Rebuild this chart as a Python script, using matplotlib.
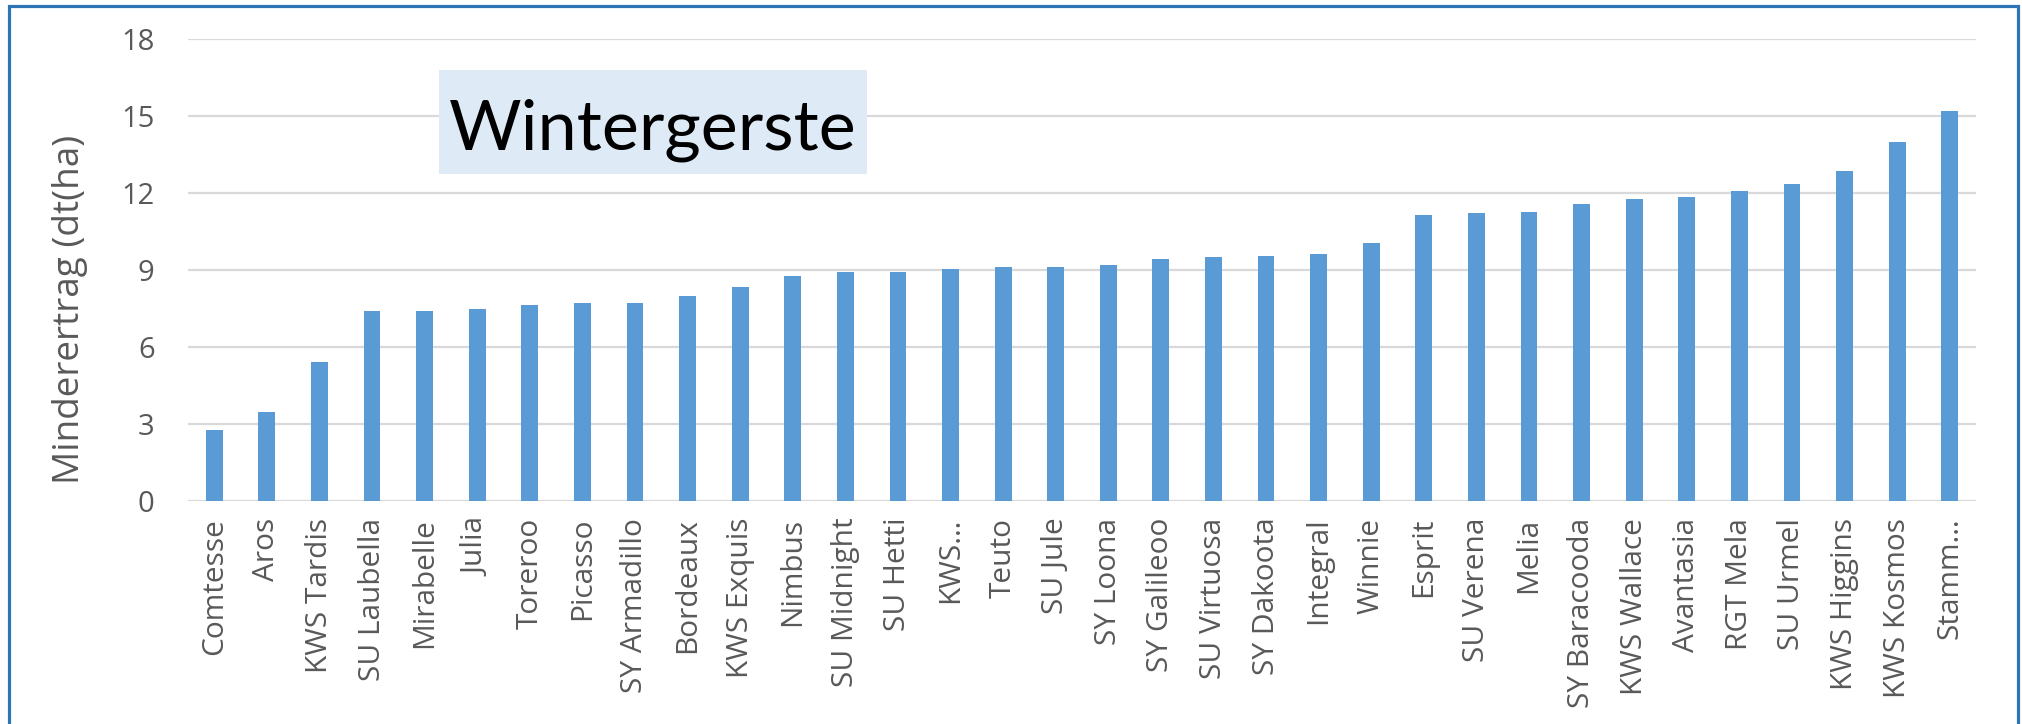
import matplotlib
matplotlib.use("Agg")
import matplotlib.pyplot as plt
from matplotlib.patches import Rectangle

categories = ["Comtesse", "Aros", "KWS Tardis", "SU Laubella", "Mirabelle", "Julia",
              "Toreroo", "Picasso", "SY Armadillo", "Bordeaux", "KWS Exquis", "Nimbus",
              "SU Midnight", "SU Hetti", "KWS…", "Teuto", "SU Jule", "SY Loona",
              "SY Galileoo", "SU Virtuosa", "SY Dakoota", "Integral", "Winnie", "Esprit",
              "SU Verena", "Melia", "SY Baracooda", "KWS Wallace", "Avantasia", "RGT Mela",
              "SU Urmel", "KWS Higgins", "KWS Kosmos", "Stamm…"]
values = [2.77, 3.47, 5.40, 7.40, 7.40, 7.48, 7.63, 7.70, 7.70, 7.98, 8.33, 8.77,
          8.92, 8.92, 9.04, 9.12, 9.12, 9.19, 9.40, 9.48, 9.54, 9.62, 10.05, 11.13,
          11.19, 11.26, 11.56, 11.77, 11.84, 12.05, 12.34, 12.84, 13.99, 15.19]
yticks = [0, 3, 6, 9, 12, 15, 18]
title = "Wintergerste"
ylabel = "Minderertrag (dt(ha)"

W, H = 2022, 724
fig = plt.figure(figsize=(W / 100, H / 100), dpi=100)
fig.patch.set_facecolor("white")

def fx(px):
    return px / W

def fy(py):
    return 1 - py / H

ax = fig.add_axes([fx(188), fy(501), fx(1976) - fx(188), fy(38.5) - fy(501)])
x = list(range(len(categories)))
ax.bar(x, values, width=0.32, color="#5B9BD5", zorder=3)
ax.set_xlim(-0.5, len(categories) - 0.5)
ax.set_ylim(0, 18)
ax.set_yticks(yticks)
ax.set_yticklabels([str(v) for v in yticks])
ax.set_xticks(x)
ax.set_xticklabels(categories, rotation=90)
for s in ax.spines.values():
    s.set_visible(False)
ax.grid(axis="y", color="#D9D9D9", linewidth=1.6, zorder=0)
ax.tick_params(axis="both", length=0)
ax.tick_params(axis="y", pad=24, labelsize=21, labelcolor="#595959")
ax.tick_params(axis="x", pad=12, labelsize=21.5, labelcolor="#595959")
for lab in ax.get_xticklabels() + ax.get_yticklabels():
    lab.set_fontfamily("Open Sans")
ax.patch.set_alpha(0)

# y axis title
fig.text(fx(70), fy(309), ylabel, rotation=90, ha="center", va="center",
         fontsize=26.6, color="#595959", family="Open Sans")

# title box
fig.patches.append(Rectangle((fx(439), fy(174)), fx(867) - fx(439), fy(70) - fy(174),
                             transform=fig.transFigure, facecolor="#DEEAF6",
                             edgecolor="none", zorder=5))
fig.text(fx(653), fy(150), title, ha="center", va="baseline", fontsize=50.5,
         color="black", family="Lato", zorder=6)

# outer border (chart frame)
fig.patches.append(Rectangle((fx(8.5), fy(740)), fx(2018) - fx(8.5), fy(6) - fy(740),
                             transform=fig.transFigure, facecolor="none",
                             edgecolor="#2E75B6", linewidth=2.3, zorder=10))

fig.savefig("out.png", dpi=100)
